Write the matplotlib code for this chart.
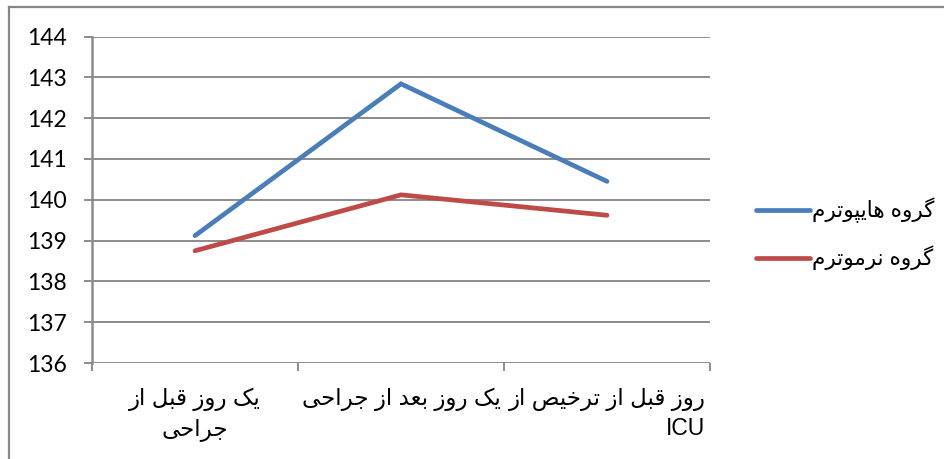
import matplotlib
matplotlib.use("Agg")
import matplotlib.pyplot as plt
from matplotlib.lines import Line2D

# ---------------- data ----------------
categories = [
    "یک روز قبل از\nجراحی",
    "یک روز بعد از جراحی",
    "روز قبل از ترخیص از\nICU",
]
series_names = ["گروه هایپوترم", "گروه نرموترم"]
hypothermia = [139.12, 142.84, 140.45]
normothermia = [138.75, 140.12, 139.62]
y_ticks = [136, 137, 138, 139, 140, 141, 142, 143, 144]

colors = ["#4A7EBB", "#BE4B48"]

# ---------------- minimal Persian shaping ----------------
FORMS = {
    'ا': ('\uFE8D', '\uFE8E', None, None),
    'ب': ('\uFE8F', '\uFE90', '\uFE91', '\uFE92'),
    'پ': ('\uFB56', '\uFB57', '\uFB58', '\uFB59'),
    'ت': ('\uFE95', '\uFE96', '\uFE97', '\uFE98'),
    'ج': ('\uFE9D', '\uFE9E', '\uFE9F', '\uFEA0'),
    'ح': ('\uFEA1', '\uFEA2', '\uFEA3', '\uFEA4'),
    'خ': ('\uFEA5', '\uFEA6', '\uFEA7', '\uFEA8'),
    'د': ('\uFEA9', '\uFEAA', None, None),
    'ر': ('\uFEAD', '\uFEAE', None, None),
    'ز': ('\uFEAF', '\uFEB0', None, None),
    'ص': ('\uFEB9', '\uFEBA', '\uFEBB', '\uFEBC'),
    'ع': ('\uFEC9', '\uFECA', '\uFECB', '\uFECC'),
    'ق': ('\uFED5', '\uFED6', '\uFED7', '\uFED8'),
    'ک': ('\uFB8E', '\uFB8F', '\uFB90', '\uFB91'),
    'گ': ('\uFB92', '\uFB93', '\uFB94', '\uFB95'),
    'ل': ('\uFEDD', '\uFEDE', '\uFEDF', '\uFEE0'),
    'م': ('\uFEE1', '\uFEE2', '\uFEE3', '\uFEE4'),
    'ن': ('\uFEE5', '\uFEE6', '\uFEE7', '\uFEE8'),
    'ه': ('\uFEE9', '\uFEEA', '\uFEEB', '\uFEEC'),
    'و': ('\uFEED', '\uFEEE', None, None),
    'ی': ('\uFBFC', '\uFBFD', '\uFBFE', '\uFBFF'),
}


def shape_line(s):
    if not any(c in FORMS for c in s):
        return s
    out = []
    n = len(s)
    for i, c in enumerate(s):
        if c not in FORMS:
            out.append(c)
            continue
        iso, fin, ini, med = FORMS[c]
        prev = s[i - 1] if i > 0 else None
        nxt = s[i + 1] if i < n - 1 else None
        pj = prev in FORMS and FORMS[prev][2] is not None
        nj = nxt in FORMS and ini is not None
        if pj and nj:
            out.append(med)
        elif pj:
            out.append(fin)
        elif nj:
            out.append(ini)
        else:
            out.append(iso)
    return ''.join(out)[::-1]


def rtl(s):
    return "\n".join(shape_line(line) for line in s.split("\n"))


NUM_FONT = ['Lato', 'DejaVu Sans']
TXT_FONT = ['Liberation Sans', 'DejaVu Sans']

# ---------------- figure ----------------
W, H = 945, 459
fig = plt.figure(figsize=(W / 100, H / 100), dpi=100)

# outer chart border (top and left edges visible)
fig.add_artist(Line2D([9 / W, 1.0], [1 - 7 / H, 1 - 7 / H], color="#888888", lw=1.6))
fig.add_artist(Line2D([9 / W, 9 / W], [1 - 7 / H, 0.0], color="#888888", lw=1.6))

ax = fig.add_axes([92 / W, 1 - 363 / H, (710 - 92) / W, (363 - 36.5) / H])
x = list(range(len(categories)))

grid_c = "#8C8C8C"
for yv in y_ticks:
    ax.axhline(yv, color=grid_c, lw=1.4, zorder=1)

for vals, name, col in zip([hypothermia, normothermia], series_names, colors):
    ax.plot(x, vals, color=col, lw=3.4, solid_capstyle="round",
            solid_joinstyle="miter", label=rtl(name), zorder=3)

ax.set_xlim(-0.5, len(categories) - 0.5)
ax.set_ylim(y_ticks[0], y_ticks[-1])

for side in ["top", "right", "bottom"]:
    ax.spines[side].set_visible(False)
ax.spines["left"].set_color(grid_c)
ax.spines["left"].set_linewidth(1.8)

ax.set_yticks(y_ticks)
ax.set_yticklabels([str(v) for v in y_ticks], fontfamily=NUM_FONT, fontsize=16.5)
ax.tick_params(axis="y", direction="out", length=6, width=1.4, color=grid_c, pad=12)

# category boundary ticks (major) and labels (minor)
ax.set_xticks([i - 0.5 for i in range(len(categories) + 1)])
ax.set_xticklabels([])
ax.tick_params(axis="x", which="major", direction="out", length=6, width=1.4, color=grid_c)
ax.set_xticks(x, minor=True)
labels = ax.set_xticklabels([rtl(c) for c in categories], minor=True,
                            fontfamily=TXT_FONT, fontsize=16.5,
                            linespacing=1.35)
ax.tick_params(axis="x", which="minor", length=0, pad=18)
labels[2].set_multialignment("right")
labels[2].set_text(rtl("روز قبل از ترخیص از") + "\nICU   ")

leg = fig.legend(loc="center left", bbox_to_anchor=(737 / W, 1 - 234 / H),
                 frameon=False, prop={'family': TXT_FONT, 'size': 15.5},
                 handlelength=2.5, handletextpad=0.1, labelspacing=1.05)

fig.savefig("out.png", dpi=100, facecolor="white")
